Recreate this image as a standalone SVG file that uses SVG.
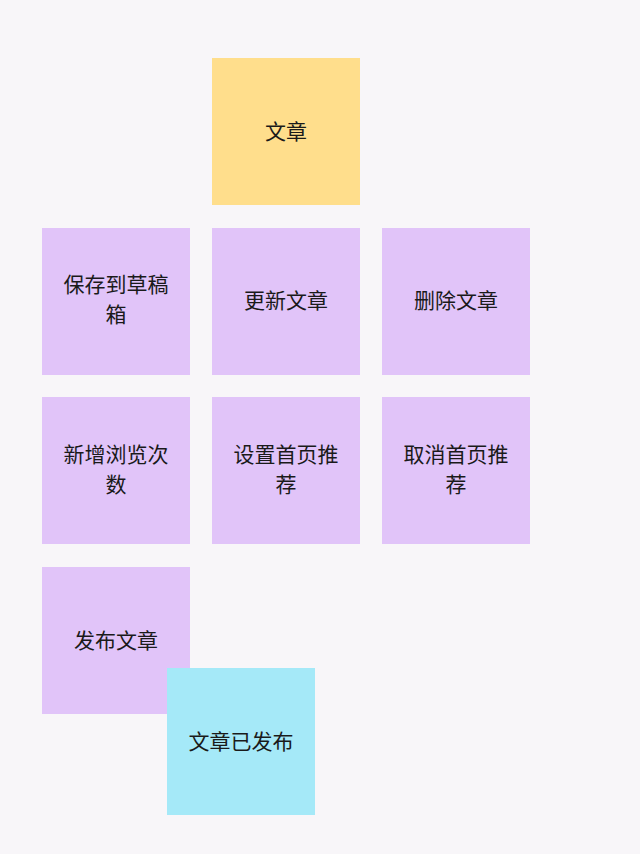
<svg xmlns="http://www.w3.org/2000/svg" width="640" height="854" viewBox="0 0 640 854">
<style>
.n{stroke:none}
.p{fill:#E1C4F9}
.y{fill:#FFDE8C}
.c{fill:#A5E9F8}
text{font-family:"Noto Sans CJK SC","Liberation Sans",sans-serif;font-size:21px;fill:#1a1a1a;text-anchor:middle}
</style>
<rect width="640" height="854" fill="#F8F6F9"/>
<g id="connectors"></g>
<g id="n_article"><rect class="n y" x="212" y="58" width="148" height="147"/><text x="286" y="139">文章</text></g>
<g id="n_draft"><rect class="n p" x="42" y="228" width="148" height="147"/><text x="116" y="292">保存到草稿</text><text x="116" y="322">箱</text></g>
<g id="n_update"><rect class="n p" x="212" y="228" width="148" height="147"/><text x="286" y="308">更新文章</text></g>
<g id="n_delete"><rect class="n p" x="382" y="228" width="148" height="147"/><text x="456" y="308">删除文章</text></g>
<g id="n_views"><rect class="n p" x="42" y="397" width="148" height="147"/><text x="116" y="462">新增浏览次</text><text x="116" y="492">数</text></g>
<g id="n_setrec"><rect class="n p" x="212" y="397" width="148" height="147"/><text x="286" y="462">设置首页推</text><text x="286" y="492">荐</text></g>
<g id="n_cancelrec"><rect class="n p" x="382" y="397" width="148" height="147"/><text x="456" y="462">取消首页推</text><text x="456" y="492">荐</text></g>
<g id="n_publish"><rect class="n p" x="42" y="567" width="148" height="147"/><text x="116" y="648">发布文章</text></g>
<g id="n_published"><rect class="n c" x="167" y="668" width="148" height="147"/><text x="241" y="749">文章已发布</text></g>
</svg>
